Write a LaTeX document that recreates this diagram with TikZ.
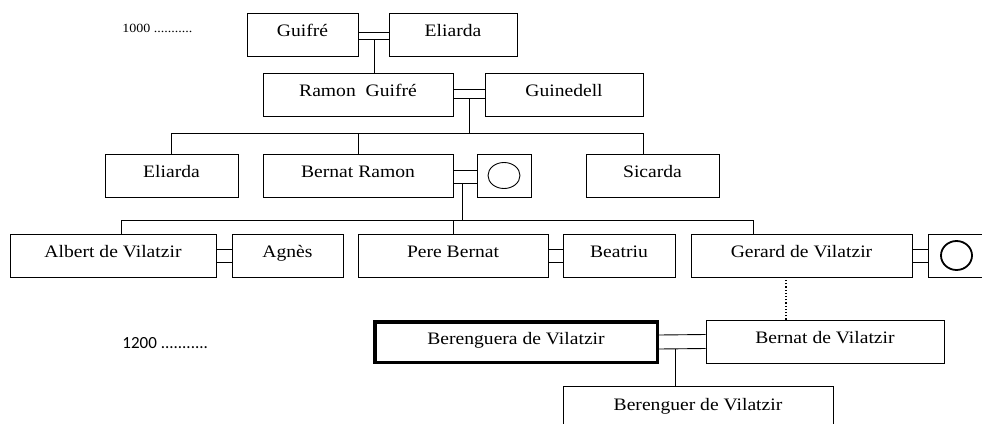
\documentclass[tikz,border=0pt]{standalone}
\usepackage{fontspec}
\setmainfont{Liberation Serif}[FakeStretch=1.12]
\newfontfamily\yearfont{Carlito}

\begin{document}
\begin{tikzpicture}[x=1pt,y=-1pt,line width=0.9pt,
box node/.style={rectangle,draw,inner sep=0pt,minimum height=43pt,text height=12pt,text depth=8pt,font=\fontsize{17.5}{20}\selectfont},
heir node/.style={box node,line width=3.5pt}]
\useasboundingbox (0,0) rectangle (982,423);
\clip (0,0) rectangle (982,423);
\node[anchor=base west,inner sep=0pt,font=\fontsize{12.5}{14}\selectfont] (y1) at (122,32) {1000 ...........};
\node[anchor=base west,inner sep=0pt,font=\yearfont\fontsize{17}{19}\selectfont] (y2) at (122,348) {1200 ...........};
\node[box node,minimum width=111pt] (1) at (302.5,34.5) {Guifré};
\node[box node,minimum width=128pt] (2) at (453,34.5) {Eliarda};
\node[box node,minimum width=190pt] (3) at (358,94.5) {Ramon~ Guifré};
\node[box node,minimum width=158pt] (4) at (564,94.5) {Guinedell};
\node[box node,minimum width=133pt] (5) at (171.5,175.5) {Eliarda};
\node[box node,minimum width=190pt] (6) at (358,175.5) {Bernat Ramon};
\node[box node,minimum width=54pt] (7) at (504,175.5) {};
\node[box node,minimum width=133pt] (8) at (652.5,175.5) {Sicarda};
\node[box node,minimum width=206pt] (9) at (113,255.5) {Albert de Vilatzir};
\node[box node,minimum width=111pt] (10) at (287.5,255.5) {Agnès};
\node[box node,minimum width=190pt] (11) at (453,255.5) {Pere Bernat};
\node[box node,minimum width=112pt] (12) at (619,255.5) {Beatriu};
\node[box node,minimum width=221pt] (13) at (801.5,255.5) {Gerard de Vilatzir};
\node[box node,minimum width=57pt] (14) at (956.5,255.5) {};
\node[heir node,minimum width=282.5pt,minimum height=40.5pt] (15) at (516,342) {Berenguera de Vilatzir};
\node[box node,minimum width=238pt] (16) at (825,341.5) {Bernat de Vilatzir};
\node[box node,minimum width=270pt] (17) at (698,408) {Berenguer de Vilatzir};
% unknown spouses
\draw (7.center) ellipse [x radius=16pt,y radius=13pt];
\draw[line width=1.8pt] (14.center) ellipse [x radius=15.5pt,y radius=14.5pt];
% marriages
\draw ([yshift=2.5pt]1.east) -- ([yshift=2.5pt]2.west);
\draw ([yshift=-4.5pt]1.east) -- ([yshift=-4.5pt]2.west);
\draw ([yshift=5.5pt]3.east) -- ([yshift=5.5pt]4.west);
\draw ([yshift=-3.5pt]3.east) -- ([yshift=-3.5pt]4.west);
\draw ([yshift=5.5pt]6.east) -- ([yshift=5.5pt]7.west);
\draw ([yshift=-7.5pt]6.east) -- ([yshift=-7.5pt]7.west);
\draw ([yshift=6.5pt]9.east) -- ([yshift=6.5pt]10.west);
\draw ([yshift=-6.5pt]9.east) -- ([yshift=-6.5pt]10.west);
\draw ([yshift=6.5pt]11.east) -- ([yshift=6.5pt]12.west);
\draw ([yshift=-7pt]11.east) -- ([yshift=-7pt]12.west);
\draw ([yshift=6.5pt]13.east) -- ([yshift=6.5pt]14.west);
\draw ([yshift=-7pt]13.east) -- ([yshift=-7pt]14.west);
\draw ([yshift=7pt]15.east) -- ([yshift=7pt]16.west);
\draw ([yshift=-7pt]15.east) -- ([yshift=-7pt]16.west);
% children
\coordinate (m1) at (374,39);
\coordinate (m2) at (469,98);
\coordinate (m3) at (462,183);
\coordinate (m5) at (675,349);
\coordinate (b1) at (469,133);
\coordinate (b2) at (462,220);
\draw (m1) -- (3.north -| m1);
\draw (m2) -- (b1);
\draw (5.north) |- (b1);
\draw (6.north) -- (6.north |- b1);
\draw ([xshift=-9.5pt]8.north) |- (b1);
\draw (m3) -- (b2);
\draw ([xshift=8pt]9.north) |- (b2);
\draw (11.north) -- (11.north |- b2);
\draw ([xshift=-48.5pt]13.north) |- (b2);
\draw[dotted,line width=1.2pt] ([xshift=-39pt]16.north) -- ([xshift=-39pt]16.north |- 13.south);
\draw (m5) -- (17.north -| m5);
\end{tikzpicture}
\end{document}
